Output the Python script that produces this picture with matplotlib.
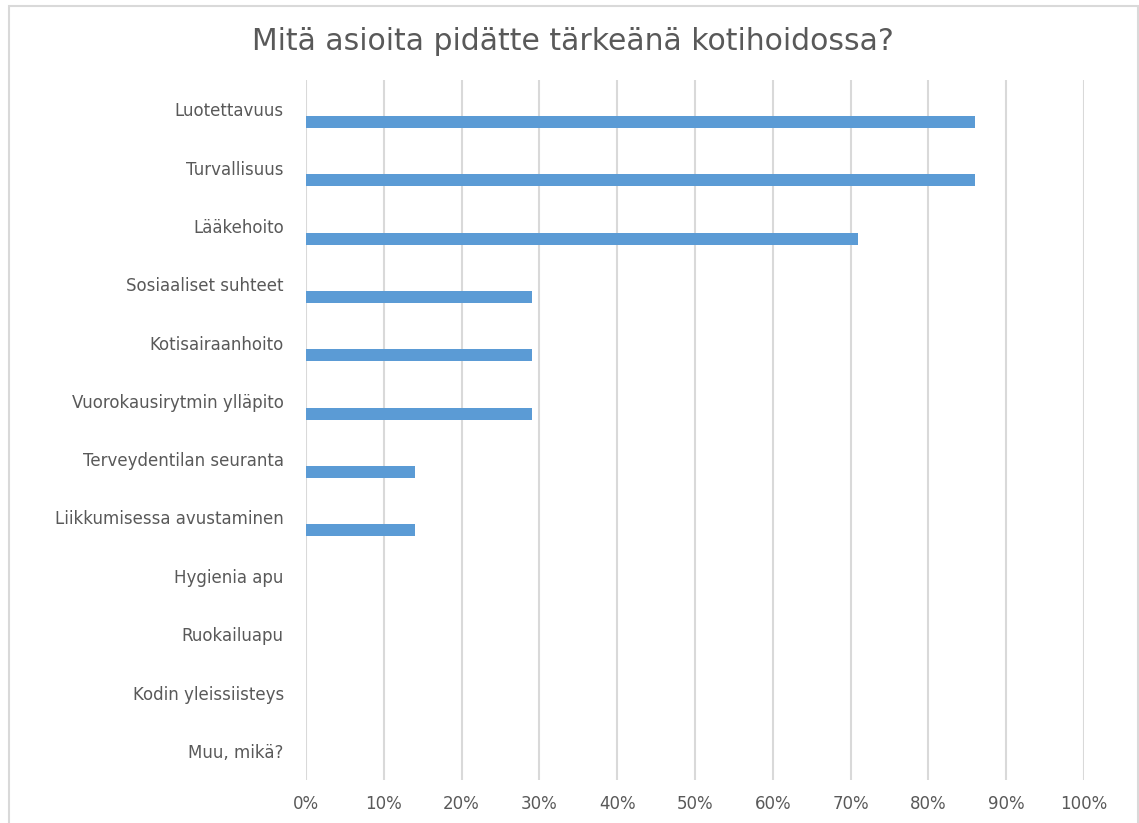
import matplotlib
matplotlib.use('Agg')
import matplotlib.pyplot as plt
from matplotlib.patches import Rectangle
from matplotlib.ticker import FuncFormatter

plt.rcParams['font.family'] = ['DejaVu Sans']

# data
categories = ['Luotettavuus', 'Turvallisuus', 'Lääkehoito', 'Sosiaaliset suhteet',
              'Kotisairaanhoito', 'Vuorokausirytmin ylläpito', 'Terveydentilan seuranta',
              'Liikkumisessa avustaminen', 'Hygienia apu', 'Ruokailuapu',
              'Kodin yleissiisteys', 'Muu, mikä?']
values = [86, 86, 71, 29, 29, 29, 14, 14, 0, 0, 0, 0]
title = 'Mitä asioita pidätte tärkeänä kotihoidossa?'

W, H = 1139, 823
fig = plt.figure(figsize=(W / 100, H / 100), dpi=100)
fig.patch.set_facecolor('white')

# outer chart frame
fig.patches.append(Rectangle((9 / W, -0.05), (1138 - 9) / W, 1.05 - 6 / H,
                             transform=fig.transFigure, fill=False,
                             edgecolor='#d9d9d9', linewidth=1.5))

ax = fig.add_axes([306 / W, 1 - 780 / H, (1084 - 306) / W, 700 / H])

n = len(categories)
pos = list(range(n))
# bars sit in the lower part of each category band
ax.barh([p + 0.22 for p in pos], values, height=0.21, color='#5b9bd5', zorder=3)

ax.set_ylim(n - 0.5, -0.5)
ax.set_xlim(0, 100)
ax.set_yticks(pos)
ax.set_yticklabels(categories)
ax.set_xticks(range(0, 101, 10))
ax.xaxis.set_major_formatter(FuncFormatter(lambda v, p: f'{v:.0f}%'))
ax.tick_params(axis='both', length=0, labelsize=12, colors='#595959')
ax.tick_params(axis='y', pad=16)
ax.tick_params(axis='x', pad=11)
ax.grid(axis='x', color='#d9d9d9', linewidth=1.5, zorder=0)
for s in ax.spines.values():
    s.set_visible(False)

fig.text(573 / W, 1 - 42 / H, title, ha='center', va='center', fontsize=21.5,
         color='#595959')

fig.savefig('out.png', dpi=100)
